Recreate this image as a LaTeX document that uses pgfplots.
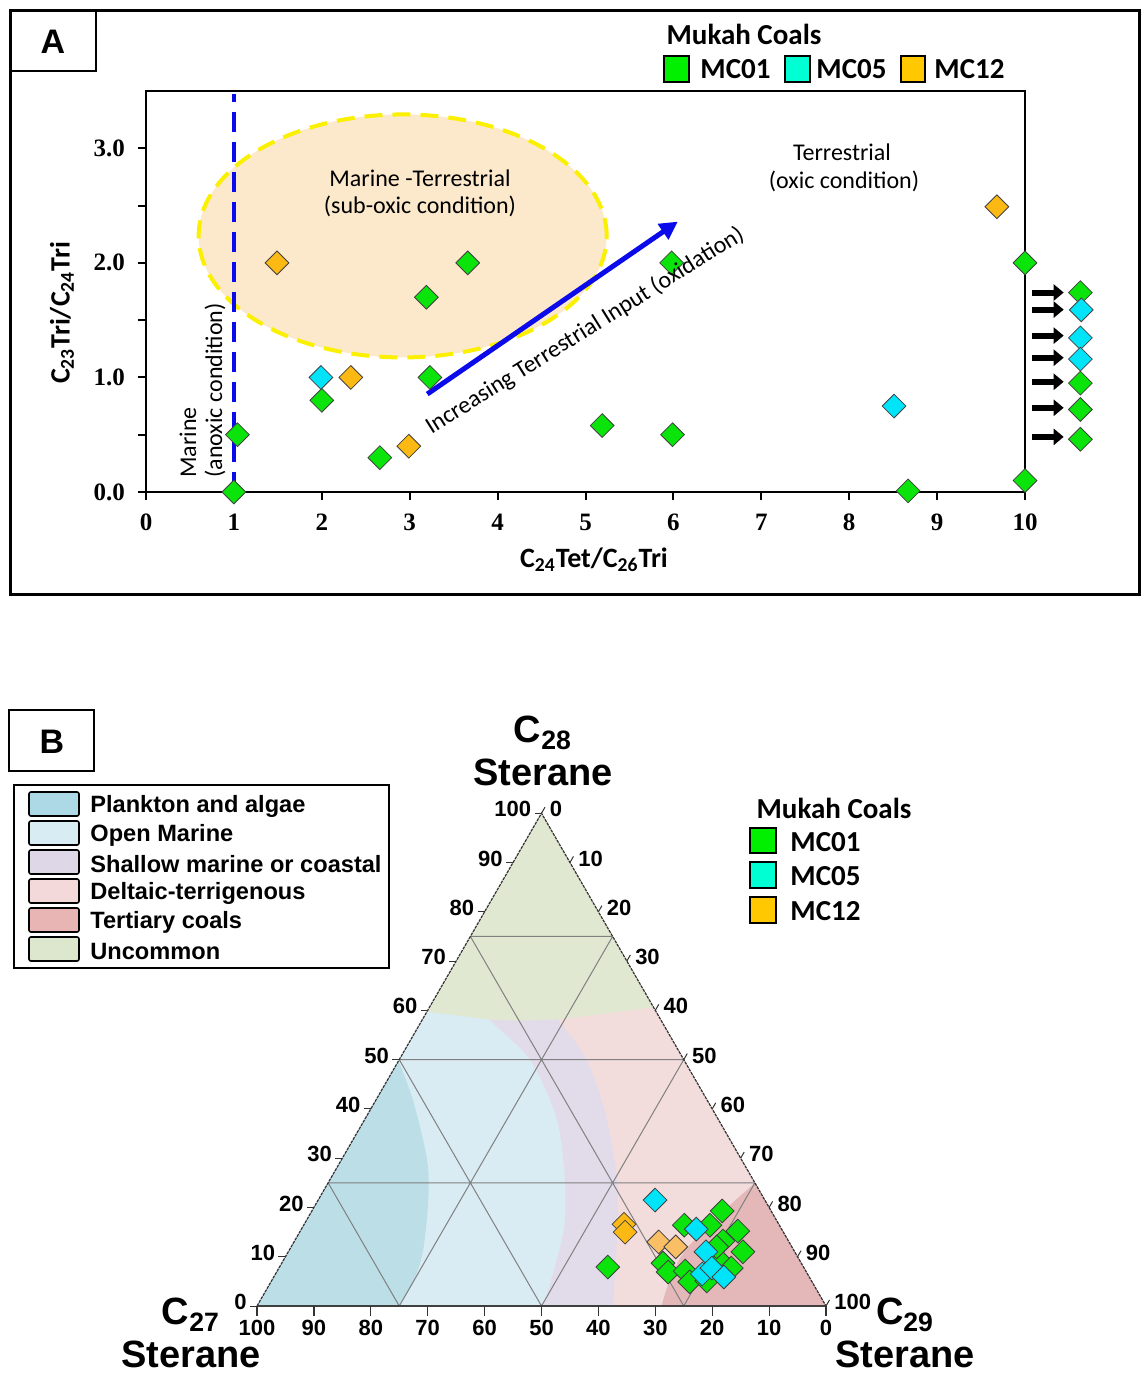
\documentclass[border=0pt]{standalone}
\usepackage{fontspec}
\setmainfont{Carlito}
\newfontfamily\timesf{Liberation Serif}
\newfontfamily\arialf{Liberation Sans}
\usepackage{pgfplots}
\pgfplotsset{compat=1.18}
\usepackage{pgfplotstable}
\usetikzlibrary{arrows.meta}

\definecolor{mgreen}{RGB}{10,228,10}
\definecolor{mcyan}{RGB}{0,228,250}
\definecolor{morange}{RGB}{252,185,20}
\definecolor{morangeb}{RGB}{250,190,100}
\definecolor{lgreen}{RGB}{0,240,0}
\definecolor{lcyan}{RGB}{0,255,210}
\definecolor{lorange}{RGB}{255,200,0}
\definecolor{ellfill}{RGB}{252,233,204}
\definecolor{ellline}{RGB}{250,240,0}
\definecolor{bluel}{RGB}{10,10,235}
\definecolor{plank}{RGB}{188,222,231}
\definecolor{openm}{RGB}{218,236,243}
\definecolor{shallow}{RGB}{226,220,234}
\definecolor{delta}{RGB}{242,220,220}
\definecolor{tert}{RGB}{228,184,184}
\definecolor{uncom}{RGB}{225,232,210}
\definecolor{splank}{RGB}{173,216,230}
\definecolor{sopen}{RGB}{215,236,243}
\definecolor{sshallow}{RGB}{221,215,232}
\definecolor{sdelta}{RGB}{243,217,217}
\definecolor{stert}{RGB}{232,180,180}
\definecolor{suncom}{RGB}{221,231,206}

% Panel A data: C24Tet/C26Tri vs C23Tri/C24Tri
\pgfplotstableread{
x y
1.00 0.00
1.04 0.50
2.00 0.80
2.66 0.30
3.19 1.70
3.23 1.00
3.66 2.00
5.19 0.58
5.99 0.50
5.98 2.00
8.67 0.01
10.00 0.10
10.00 2.00
10.63 1.74
10.63 0.95
10.63 0.72
10.63 0.46
}\aGreen
\pgfplotstableread{
x y
1.99 1.00
8.51 0.75
10.64 1.59
10.63 1.345
10.63 1.16
}\aCyan
\pgfplotstableread{
x y
1.49 2.00
2.33 1.00
2.99 0.40
9.68 2.49
}\aOrange

% Panel B data: C27 C28 C29 sterane (%)
\pgfplotstableread{
a b c
34.4 7.9 57.7
8.6 19.3 72.1
16.7 16.4 66.9
12.2 16.4 71.4
7.9 15.2 76.9
11.5 13.2 75.3
9.1 11.0 79.9
24.3 8.7 67.0
24.3 6.9 68.8
21.2 7.1 71.7
21.5 4.9 73.6
18.4 5.1 76.5
14.1 9.3 76.6
12.8 7.7 79.5
13.2 12.0 74.8
}\bGreen
\pgfplotstableread{
a b c
19.3 21.5 59.2
15.0 15.6 69.4
15.6 11.0 73.4
18.5 6.5 75.0
16.2 7.7 76.1
15.0 5.9 79.1
}\bCyan
\pgfplotstableread{
a b c
27.2 16.6 56.2
27.8 15.0 57.2
}\bOrange
\pgfplotstableread{
a b c
22.9 13.0 64.1
20.4 12.0 67.6
}\bOrangeB

\pgfplotsset{
 diam/.style={only marks, mark=square*, mark size=4.2pt,
   mark options={rotate=45, fill=#1, draw=black!75, line width=0.4pt}},
}

\begin{document}
\begin{tikzpicture}
\useasboundingbox (0,0) rectangle (571pt,-687pt);

% ---------------- Panel A ----------------
\begin{axis}[
 at={(73pt,-246pt)}, anchor=south west, scale only axis,
 width=439.5pt, height=200.5pt,
 xmin=0, xmax=10, ymin=0, ymax=3.5,
 clip=false,
 axis line style={line width=1pt},
 every tick/.style={black, line width=1pt},
 tick align=outside, major tick length=4pt, minor tick length=4pt,
 tick pos=left,
 xtick={0,1,2,3,4,5,6,7,8,9,10},
 xticklabels={0,1,2,3,4,5,6,7,8,9,10},
 ytick={0,1,2,3}, yticklabels={0.0,1.0,2.0,3.0},
 minor ytick={0.5,1.5,2.5},
 ticklabel style={font=\timesf\bfseries\fontsize{12.5}{14}\selectfont},
 xticklabel style={yshift=-3.5pt},
 yticklabel style={xshift=-3pt},
]
\fill[ellfill] (axis cs:2.92,2.235) ellipse [x radius=102pt, y radius=60.75pt];
\draw[ellline, line width=2pt, dash pattern=on 9pt off 5pt] (axis cs:2.92,2.235) ellipse [x radius=102pt, y radius=60.75pt];
\draw[bluel, line width=2pt, dash pattern=on 10pt off 5pt] (axis cs:1,0) -- (axis cs:1,3.47);
\draw[bluel, line width=2.5pt, -{Triangle[length=9pt,width=9pt]}] (axis cs:3.20,0.855) -- (axis cs:6.05,2.36);
\draw[black, line width=3pt, -{Triangle[length=5pt,width=8pt]}] (axis cs:10.08,1.741) -- (axis cs:10.44,1.741);
\draw[black, line width=3pt, -{Triangle[length=5pt,width=8pt]}] (axis cs:10.08,1.592) -- (axis cs:10.44,1.592);
\draw[black, line width=3pt, -{Triangle[length=5pt,width=8pt]}] (axis cs:10.08,1.365) -- (axis cs:10.44,1.365);
\draw[black, line width=3pt, -{Triangle[length=5pt,width=8pt]}] (axis cs:10.08,1.172) -- (axis cs:10.44,1.172);
\draw[black, line width=3pt, -{Triangle[length=5pt,width=8pt]}] (axis cs:10.08,0.962) -- (axis cs:10.44,0.962);
\draw[black, line width=3pt, -{Triangle[length=5pt,width=8pt]}] (axis cs:10.08,0.735) -- (axis cs:10.44,0.735);
\draw[black, line width=3pt, -{Triangle[length=5pt,width=8pt]}] (axis cs:10.08,0.481) -- (axis cs:10.44,0.481);
\addplot[diam=mgreen] table {\aGreen};
\addplot[diam=mcyan] table {\aCyan};
\addplot[diam=morange] table {\aOrange};
\end{axis}

% ---------------- Panel B ----------------
\begin{axis}[
 at={(128.5pt,-653pt)}, anchor=south west, scale only axis,
 width=284.5pt, height=246.38pt,
 xmin=0, xmax=100, ymin=0, ymax=86.6025,
 hide axis, clip=false,
]
\begin{scope}
\clip (axis cs:0,0) -- (axis cs:100,0) -- (axis cs:50,86.6025) -- cycle;
\fill[delta] (axis cs:0,0) rectangle (axis cs:100,90);
\fill[shallow] (axis cs:0,0) -- plot[smooth] coordinates {(axis cs:62.6,0) (axis cs:63.3,12.8) (axis cs:63.3,21.8) (axis cs:61.5,32.7) (axis cs:58.0,43.2) (axis cs:52.9,50.3) (axis cs:49,56)} -- (axis cs:0,56) -- cycle;
\fill[openm] (axis cs:0,0) -- plot[smooth] coordinates {(axis cs:50.3,0) (axis cs:53.8,12.8) (axis cs:54.1,21.8) (axis cs:52.7,32.7) (axis cs:48.0,43.2) (axis cs:40.9,50.3) (axis cs:37,56)} -- (axis cs:0,56) -- cycle;
\fill[plank] (axis cs:0,0) -- plot[smooth] coordinates {(axis cs:24.8,0) (axis cs:27.4,4.0) (axis cs:29.2,9.8) (axis cs:30.1,18.6) (axis cs:29.9,25.7) (axis cs:27.4,36.2) (axis cs:24.8,43.2)} -- (axis cs:0,43.2) -- cycle;
\fill[tert] plot[smooth] coordinates {(axis cs:71.0,-0.5) (axis cs:72.1,3.3) (axis cs:74.9,9.3) (axis cs:80.8,15.6) (axis cs:87.5,21.6)} -- (axis cs:100,21.6) -- (axis cs:100,-0.5) -- cycle;
\fill[uncom] plot[smooth] coordinates {(axis cs:20,51.8) (axis cs:29.7,51.7) (axis cs:41.8,50.3) (axis cs:52.5,50.4) (axis cs:70.1,52.5) (axis cs:80,53.2)} -- (axis cs:80,90) -- (axis cs:20,90) -- cycle;
\end{scope}
% grid lines (25, 50, 75 for each component)
\draw[black!50, line width=0.5pt]
 (axis cs:12.5,21.65) -- (axis cs:87.5,21.65)
 (axis cs:25,43.30) -- (axis cs:75,43.30)
 (axis cs:37.5,64.95) -- (axis cs:62.5,64.95)
 (axis cs:25,0) -- (axis cs:62.5,64.95)
 (axis cs:50,0) -- (axis cs:75,43.30)
 (axis cs:75,0) -- (axis cs:87.5,21.65)
 (axis cs:75,0) -- (axis cs:37.5,64.95)
 (axis cs:50,0) -- (axis cs:25,43.30)
 (axis cs:25,0) -- (axis cs:12.5,21.65);
\draw[black!80, line width=0.6pt, dash pattern=on 1.5pt off 0.5pt] (axis cs:0,0) -- (axis cs:50,86.6025) -- (axis cs:100,0);
\draw[black!75, line width=1pt] (axis cs:0,0) -- (axis cs:100,0);
\pgfplotsinvokeforeach{0,10,...,100}{
 \draw[black!80, line width=0.5pt] (axis cs:{#1/2},{#1*0.8660254}) -- ++(-3.5pt,0);
 \draw[black!80, line width=0.5pt] (axis cs:{50+#1/2},{(100-#1)*0.8660254}) -- ++(60:3.5pt);
 \draw[black!80, line width=0.6pt] (axis cs:{100-#1},0) -- ++(0,-5pt);
 \node[anchor=east, inner sep=0pt, xshift=-5pt, yshift=2pt, font=\arialf\bfseries\fontsize{11}{12}\selectfont] at (axis cs:{#1/2},{#1*0.8660254}) {#1};
 \node[anchor=west, inner sep=0pt, xshift=4pt, yshift=2pt, font=\arialf\bfseries\fontsize{11}{12}\selectfont] at (axis cs:{50+#1/2},{(100-#1)*0.8660254}) {#1};
 \node[anchor=north, inner sep=0pt, yshift=-7pt, font=\arialf\bfseries\fontsize{11}{12}\selectfont] at (axis cs:{100-#1},0) {#1};
}
\addplot[diam=mgreen] table[x expr=\thisrow{c}+0.5*\thisrow{b}, y expr=0.8660254*\thisrow{b}] {\bGreen};
\addplot[diam=mcyan] table[x expr=\thisrow{c}+0.5*\thisrow{b}, y expr=0.8660254*\thisrow{b}] {\bCyan};
\addplot[diam=morange] table[x expr=\thisrow{c}+0.5*\thisrow{b}, y expr=0.8660254*\thisrow{b}] {\bOrange};
\addplot[diam=morangeb] table[x expr=\thisrow{c}+0.5*\thisrow{b}, y expr=0.8660254*\thisrow{b}] {\bOrangeB};
\end{axis}

% ---------------- annotations (pixel coordinates) ----------------
\begin{scope}[x=0.5pt, y=-0.5pt]
% panel A frame
\draw[line width=1.5pt] (10,11) rectangle (1139,594);
\draw[line width=1pt] (10,11) rectangle (96,71);
\node[font=\arialf\bfseries\fontsize{17}{20}\selectfont] at (53,42) {A};
% legend A
\node[font=\bfseries\fontsize{14.5}{17}\selectfont] at (744,34) {Mukah Coals};
\draw[fill=lgreen, line width=0.7pt] (664,56) rectangle (689,82);
\node[anchor=west, inner sep=0pt, font=\bfseries\fontsize{14.5}{17}\selectfont] at (700,69) {MC01};
\draw[fill=lcyan, line width=0.7pt] (785,56) rectangle (810,82);
\node[anchor=west, inner sep=0pt, font=\bfseries\fontsize{14.5}{17}\selectfont] at (816,69) {MC05};
\draw[fill=lorange, line width=0.7pt] (901,56) rectangle (925,82);
\node[anchor=west, inner sep=0pt, font=\bfseries\fontsize{14.5}{17}\selectfont] at (934,69) {MC12};
% annotations A
\node[font=\fontsize{12}{14}\selectfont] at (420,178) {Marine -Terrestrial};
\node[font=\fontsize{12}{14}\selectfont] at (420,206) {(sub-oxic condition)};
\node[font=\fontsize{12}{14}\selectfont] at (842,152) {Terrestrial};
\node[font=\fontsize{12}{14}\selectfont] at (844,181) {(oxic condition)};
\node[rotate=90, anchor=west, inner sep=0pt, font=\fontsize{12}{14}\selectfont] at (188,478) {Marine};
\node[rotate=90, anchor=west, inner sep=0pt, font=\fontsize{12}{14}\selectfont] at (215,478) {(anoxic condition)};
\node[rotate=32, font=\fontsize{12}{14}\selectfont] at (585,331) {Increasing Terrestrial Input (oxidation)};
\node[rotate=90, font=\bfseries\fontsize{14}{16}\selectfont] at (62,313) {C\textsubscript{23}Tri/C\textsubscript{24}Tri};
\node[font=\bfseries\fontsize{14}{16}\selectfont] at (594,560) {C\textsubscript{24}Tet/C\textsubscript{26}Tri};

% panel B
\draw[line width=1pt] (9,710) rectangle (94,771);
\node[font=\arialf\bfseries\fontsize{17}{20}\selectfont] at (52,742) {B};
\draw[line width=0.9pt] (14,785) rectangle (389,968);
\foreach \c/\t [count=\i from 0] in {splank/Plankton and algae, sopen/Open Marine, sshallow/Shallow marine or coastal, sdelta/Deltaic-terrigenous, stert/Tertiary coals, suncom/Uncommon}{
 \draw[fill=\c, line width=0.8pt, rounded corners=1pt] (29,{792+29*\i}) rectangle (79,{816+29*\i});
 \node[anchor=west, inner sep=0pt, font=\arialf\bfseries\fontsize{11.8}{14}\selectfont] at (90,{806+29*\i}) {\t};
}
\node[font=\bfseries\fontsize{14.5}{17}\selectfont] at (834,808) {Mukah Coals};
\draw[fill=lgreen, line width=0.8pt] (750,828) rectangle (776,853);
\node[anchor=west, inner sep=0pt, font=\bfseries\fontsize{14.5}{17}\selectfont] at (790,842) {MC01};
\draw[fill=lcyan, line width=0.8pt] (750,862) rectangle (776,888);
\node[anchor=west, inner sep=0pt, font=\bfseries\fontsize{14.5}{17}\selectfont] at (790,876) {MC05};
\draw[fill=lorange, line width=0.8pt] (750,897) rectangle (776,923);
\node[anchor=west, inner sep=0pt, font=\bfseries\fontsize{14.5}{17}\selectfont] at (790,911) {MC12};
\node[align=center, font=\arialf\bfseries\fontsize{19}{21.5}\selectfont] at (543,751) {C\textsubscript{28}\\Sterane};
\node[align=center, font=\arialf\bfseries\fontsize{19}{21.5}\selectfont] at (191,1333) {C\textsubscript{27}\\Sterane};
\node[align=center, font=\arialf\bfseries\fontsize{19}{21.5}\selectfont] at (905,1333) {C\textsubscript{29}\\Sterane};
\end{scope}
\end{tikzpicture}
\end{document}
